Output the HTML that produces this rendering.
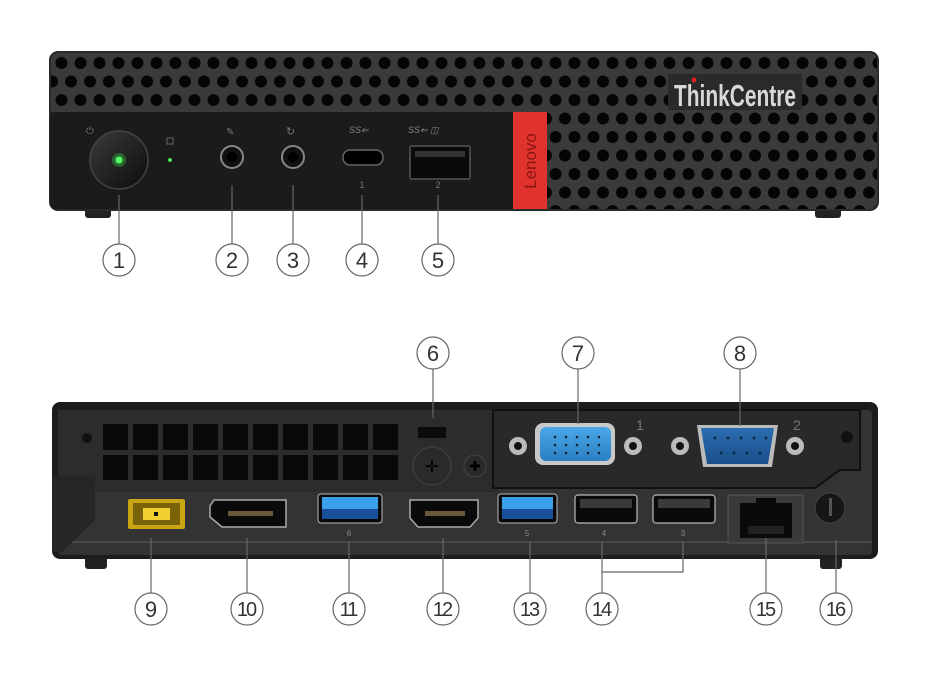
<!DOCTYPE html>
<html><head><meta charset="utf-8"><style>
html,body{margin:0;padding:0;background:#fff;}
svg{display:block;}
text{font-family:"Liberation Sans",sans-serif;}
</style></head><body>
<svg width="933" height="689" viewBox="0 0 933 689" xmlns="http://www.w3.org/2000/svg">
<defs>
<pattern id="holes" x="52" y="54" width="19" height="37" patternUnits="userSpaceOnUse">
<rect width="19" height="37" fill="#3a3a3a"/>
<circle cx="9.5" cy="9" r="6" fill="#050505"/>
<circle cx="0" cy="27.5" r="6" fill="#050505"/>
<circle cx="19" cy="27.5" r="6" fill="#050505"/>
</pattern>
<linearGradient id="btn" x1="0" y1="0" x2="1" y2="1"><stop offset="0" stop-color="#3a3a3a"/><stop offset="1" stop-color="#0c0c0c"/></linearGradient>
<linearGradient id="vga" x1="0" y1="0" x2="0" y2="1"><stop offset="0" stop-color="#4aa8e8"/><stop offset="1" stop-color="#2a7fc4"/></linearGradient>
<linearGradient id="com" x1="0" y1="0" x2="0" y2="1"><stop offset="0" stop-color="#2b6cb0"/><stop offset="1" stop-color="#1a4f8a"/></linearGradient>
</defs>

<!-- FRONT -->
<rect x="85" y="200" width="26" height="18" rx="3" fill="#222"/>
<rect x="815" y="200" width="26" height="18" rx="3" fill="#222"/>
<rect x="50" y="52" width="828" height="158" rx="8" fill="url(#holes)"/>
<rect x="50" y="52" width="828" height="158" rx="8" fill="none" stroke="#2a2a2a" stroke-width="2"/>
<rect x="50" y="112" width="464" height="97" rx="6" fill="#1b1b1b"/>
<rect x="56" y="112" width="458" height="97" fill="#1b1b1b"/>
<rect x="513" y="112" width="34" height="97" fill="#e0332d"/>
<text transform="translate(536,161) rotate(-90)" text-anchor="middle" font-size="17" fill="#8a1512">Lenovo</text>
<rect x="668" y="74" width="134" height="36" fill="#2a2a2a"/>
<text x="735" y="106" text-anchor="middle" font-size="31" font-weight="bold" fill="#d8d8d8" textLength="122" lengthAdjust="spacingAndGlyphs">ThinkCentre</text>
<circle cx="694" cy="80" r="2.5" fill="#e02020"/>
<!-- power -->
<circle cx="119" cy="160" r="29" fill="url(#btn)" stroke="#444" stroke-width="1.5"/>
<circle cx="119" cy="160" r="3.5" fill="#5cff6a"/>
<circle cx="119" cy="160" r="7" fill="#3cff50" opacity="0.3"/>
<circle cx="170" cy="160" r="2" fill="#4ee05a"/>
<text x="86" y="134" font-size="10" fill="#777">⏻</text>
<rect x="167" y="138" width="6" height="6" fill="none" stroke="#666" stroke-width="1"/>
<!-- jacks -->
<circle cx="232" cy="157" r="11" fill="#111" stroke="#888" stroke-width="2"/>
<circle cx="232" cy="157" r="5" fill="#000"/>
<circle cx="293" cy="157" r="11" fill="#111" stroke="#888" stroke-width="2"/>
<circle cx="293" cy="157" r="5" fill="#000"/>
<text x="226" y="135" font-size="10" fill="#777">✎</text>
<text x="286" y="135" font-size="11" fill="#777">↻</text>
<text x="349" y="133" font-size="9" font-style="italic" fill="#888">SS⇐</text>
<rect x="343" y="150" width="40" height="15" rx="7" fill="#000" stroke="#666" stroke-width="1.5"/>
<text x="408" y="133" font-size="9" font-style="italic" fill="#888">SS⇐ ◫</text>
<rect x="410" y="146" width="60" height="33" rx="2" fill="#0a0a0a" stroke="#555" stroke-width="1.5"/>
<rect x="415" y="151" width="50" height="6" fill="#333"/>
<text x="362" y="188" font-size="9" fill="#777" text-anchor="middle">1</text>
<text x="438" y="188" font-size="9" fill="#777" text-anchor="middle">2</text>

<!-- front leaders -->
<g stroke="#666" stroke-width="1.2" fill="none">
<line x1="119" y1="195" x2="119" y2="244"/>
<line x1="232" y1="185" x2="232" y2="244"/>
<line x1="293" y1="185" x2="293" y2="244"/>
<line x1="362" y1="195" x2="362" y2="244"/>
<line x1="438" y1="195" x2="438" y2="244"/>
<circle cx="119" cy="260" r="16"/><circle cx="232" cy="260" r="16"/><circle cx="293" cy="260" r="16"/><circle cx="362" cy="260" r="16"/><circle cx="438" cy="260" r="16"/>
</g>
<g font-size="22" fill="#333" text-anchor="middle">
<text x="119" y="268">1</text><text x="232" y="268">2</text><text x="293" y="268">3</text><text x="362" y="268">4</text><text x="438" y="268">5</text>
</g>

<!-- BACK -->
<rect x="85" y="555" width="22" height="14" rx="3" fill="#222"/>
<rect x="820" y="555" width="22" height="14" rx="3" fill="#222"/>
<rect x="52" y="402" width="826" height="157" rx="8" fill="#1c1c1c"/>
<rect x="58" y="410" width="814" height="145" rx="4" fill="#333"/>
<rect x="58" y="410" width="440" height="82" fill="#2c2c2c"/>
<!-- vga panel -->
<path d="M493 410 H860 V470 H840 L815 488 H493 Z" fill="#292929" stroke="#111" stroke-width="2"/>
<line x1="58" y1="542" x2="872" y2="542" stroke="#555" stroke-width="1.2"/>
<!-- left bumper -->
<path d="M52 476 H95 V520 L62 552 H52 Z" fill="#262626"/>
<!-- vents -->
<g fill="#090909">
<rect x="103" y="424" width="25" height="26"/><rect x="133" y="424" width="25" height="26"/><rect x="163" y="424" width="25" height="26"/><rect x="193" y="424" width="25" height="26"/><rect x="223" y="424" width="25" height="26"/><rect x="253" y="424" width="25" height="26"/><rect x="283" y="424" width="25" height="26"/><rect x="313" y="424" width="25" height="26"/><rect x="343" y="424" width="25" height="26"/><rect x="373" y="424" width="25" height="26"/>
<rect x="103" y="455" width="25" height="25"/><rect x="133" y="455" width="25" height="25"/><rect x="163" y="455" width="25" height="25"/><rect x="193" y="455" width="25" height="25"/><rect x="223" y="455" width="25" height="25"/><rect x="253" y="455" width="25" height="25"/><rect x="283" y="455" width="25" height="25"/><rect x="313" y="455" width="25" height="25"/><rect x="343" y="455" width="25" height="25"/><rect x="373" y="455" width="25" height="25"/>
</g>
<circle cx="87" cy="438" r="5" fill="#111"/>
<circle cx="847" cy="437" r="6" fill="#111"/>
<rect x="418" y="427" width="28" height="11" fill="#0c0c0c"/>
<circle cx="432" cy="466" r="19" fill="#2a2a2a" stroke="#444"/>
<text x="432" y="472" font-size="16" fill="#000" text-anchor="middle">✛</text>
<circle cx="475" cy="466" r="11" fill="#2a2a2a" stroke="#444"/>
<text x="475" y="471" font-size="14" fill="#000" text-anchor="middle">✚</text>
<!-- VGA -->
<circle cx="518" cy="446" r="9" fill="#bbb"/><circle cx="518" cy="446" r="4" fill="#111"/>
<circle cx="633" cy="446" r="9" fill="#bbb"/><circle cx="633" cy="446" r="4" fill="#111"/>
<rect x="535" y="423" width="80" height="42" rx="8" fill="#c8c8c8"/>
<rect x="540" y="427" width="71" height="34" rx="6" fill="url(#vga)"/>
<g fill="#123">
<circle cx="555" cy="437" r="1.3"/><circle cx="566" cy="437" r="1.3"/><circle cx="577" cy="437" r="1.3"/><circle cx="588" cy="437" r="1.3"/><circle cx="599" cy="437" r="1.3"/>
<circle cx="555" cy="445" r="1.3"/><circle cx="566" cy="445" r="1.3"/><circle cx="577" cy="445" r="1.3"/><circle cx="588" cy="445" r="1.3"/><circle cx="599" cy="445" r="1.3"/>
<circle cx="555" cy="453" r="1.3"/><circle cx="566" cy="453" r="1.3"/><circle cx="577" cy="453" r="1.3"/><circle cx="588" cy="453" r="1.3"/><circle cx="599" cy="453" r="1.3"/>
</g>
<text x="636" y="430" font-size="14" fill="#777">1</text>
<!-- COM -->
<circle cx="680" cy="446" r="9" fill="#bbb"/><circle cx="680" cy="446" r="4" fill="#111"/>
<circle cx="795" cy="446" r="9" fill="#bbb"/><circle cx="795" cy="446" r="4" fill="#111"/>
<path d="M697 425 H778 L772 467 H703 Z" fill="#bbb"/>
<path d="M701 428 H774 L768 464 H707 Z" fill="url(#com)"/>
<g fill="#0b2a4a">
<circle cx="715" cy="438" r="1.5"/><circle cx="728" cy="438" r="1.5"/><circle cx="741" cy="438" r="1.5"/><circle cx="754" cy="438" r="1.5"/><circle cx="766" cy="438" r="1.5"/>
<circle cx="721" cy="453" r="1.5"/><circle cx="734" cy="453" r="1.5"/><circle cx="747" cy="453" r="1.5"/><circle cx="760" cy="453" r="1.5"/>
</g>
<text x="793" y="430" font-size="14" fill="#777">2</text>
<!-- bottom row ports -->
<rect x="128" y="499" width="57" height="30" rx="2" fill="#c9a514"/>
<rect x="133" y="503" width="47" height="22" fill="#7a6208"/>
<rect x="143" y="508" width="27" height="12" fill="#f0d030"/>
<rect x="154" y="512" width="4" height="4" fill="#111"/>
<path d="M214 500 H286 V527 H222 L210 517 V506 Z" fill="#0a0a0a" stroke="#aaa" stroke-width="1.5"/>
<rect x="228" y="511" width="45" height="5" fill="#6a5a3a"/>
<rect x="318" y="494" width="64" height="29" rx="3" fill="#0a0a0a" stroke="#bbb" stroke-width="1"/>
<rect x="322" y="497" width="56" height="12" fill="#3aa0ec"/>
<rect x="322" y="509" width="56" height="10" fill="#1a4f9a"/>
<path d="M410 500 H478 V518 L470 527 H418 L410 518 Z" fill="#0a0a0a" stroke="#aaa" stroke-width="1.5"/>
<rect x="425" y="511" width="40" height="5" fill="#6a5a3a"/>
<rect x="498" y="494" width="59" height="29" rx="3" fill="#0a0a0a" stroke="#bbb" stroke-width="1"/>
<rect x="502" y="497" width="51" height="12" fill="#3aa0ec"/>
<rect x="502" y="509" width="51" height="10" fill="#1a4f9a"/>
<rect x="575" y="495" width="62" height="28" rx="3" fill="#0a0a0a" stroke="#bbb" stroke-width="1.2"/>
<rect x="580" y="499" width="52" height="9" fill="#3a3a3a"/>
<rect x="653" y="495" width="62" height="28" rx="3" fill="#0a0a0a" stroke="#bbb" stroke-width="1.2"/>
<rect x="658" y="499" width="52" height="9" fill="#3a3a3a"/>
<rect x="728" y="495" width="75" height="48" fill="#3a3a3a" stroke="#555"/>
<path d="M740 503 H756 V498 H776 V503 H792 V538 H740 Z" fill="#0a0a0a"/>
<rect x="748" y="526" width="36" height="8" fill="#222"/>
<circle cx="830" cy="508" r="15" fill="#161616" stroke="#444"/>
<rect x="829" y="498" width="3" height="18" fill="#555"/>
<g font-size="8" fill="#888">
<text x="349" y="536" text-anchor="middle">6</text><text x="527" y="536" text-anchor="middle">5</text><text x="604" y="536" text-anchor="middle">4</text><text x="683" y="536" text-anchor="middle">3</text>
</g>
<!-- back leaders -->
<g stroke="#666" stroke-width="1.2" fill="none">
<line x1="433" y1="369" x2="433" y2="418"/>
<line x1="578" y1="369" x2="578" y2="424"/>
<line x1="740" y1="369" x2="740" y2="426"/>
<line x1="151" y1="538" x2="151" y2="593"/>
<line x1="247" y1="538" x2="247" y2="593"/>
<line x1="349" y1="542" x2="349" y2="593"/>
<line x1="443" y1="538" x2="443" y2="593"/>
<line x1="530" y1="542" x2="530" y2="593"/>
<polyline points="602,542 602,572 683,572 683,542"/>
<line x1="602" y1="572" x2="602" y2="593"/>
<line x1="766" y1="538" x2="766" y2="593"/>
<line x1="836" y1="540" x2="836" y2="593"/>
<circle cx="433" cy="353" r="16"/><circle cx="578" cy="353" r="16"/><circle cx="740" cy="353" r="16"/>
<circle cx="151" cy="609" r="16"/><circle cx="247" cy="609" r="16"/><circle cx="349" cy="609" r="16"/><circle cx="443" cy="609" r="16"/><circle cx="530" cy="609" r="16"/><circle cx="602" cy="609" r="16"/><circle cx="766" cy="609" r="16"/><circle cx="836" cy="609" r="16"/>
</g>
<g font-size="22" fill="#333" text-anchor="middle">
<text x="433" y="361">6</text><text x="578" y="361">7</text><text x="740" y="361">8</text>
<text x="151" y="617">9</text>
</g>
<g font-size="20" fill="#333" text-anchor="middle" letter-spacing="-2">
<text x="246" y="616">10</text><text x="348" y="616">11</text><text x="442" y="616">12</text><text x="529" y="616">13</text><text x="601" y="616">14</text><text x="765" y="616">15</text><text x="835" y="616">16</text>
</g>
</svg>
</body></html>
